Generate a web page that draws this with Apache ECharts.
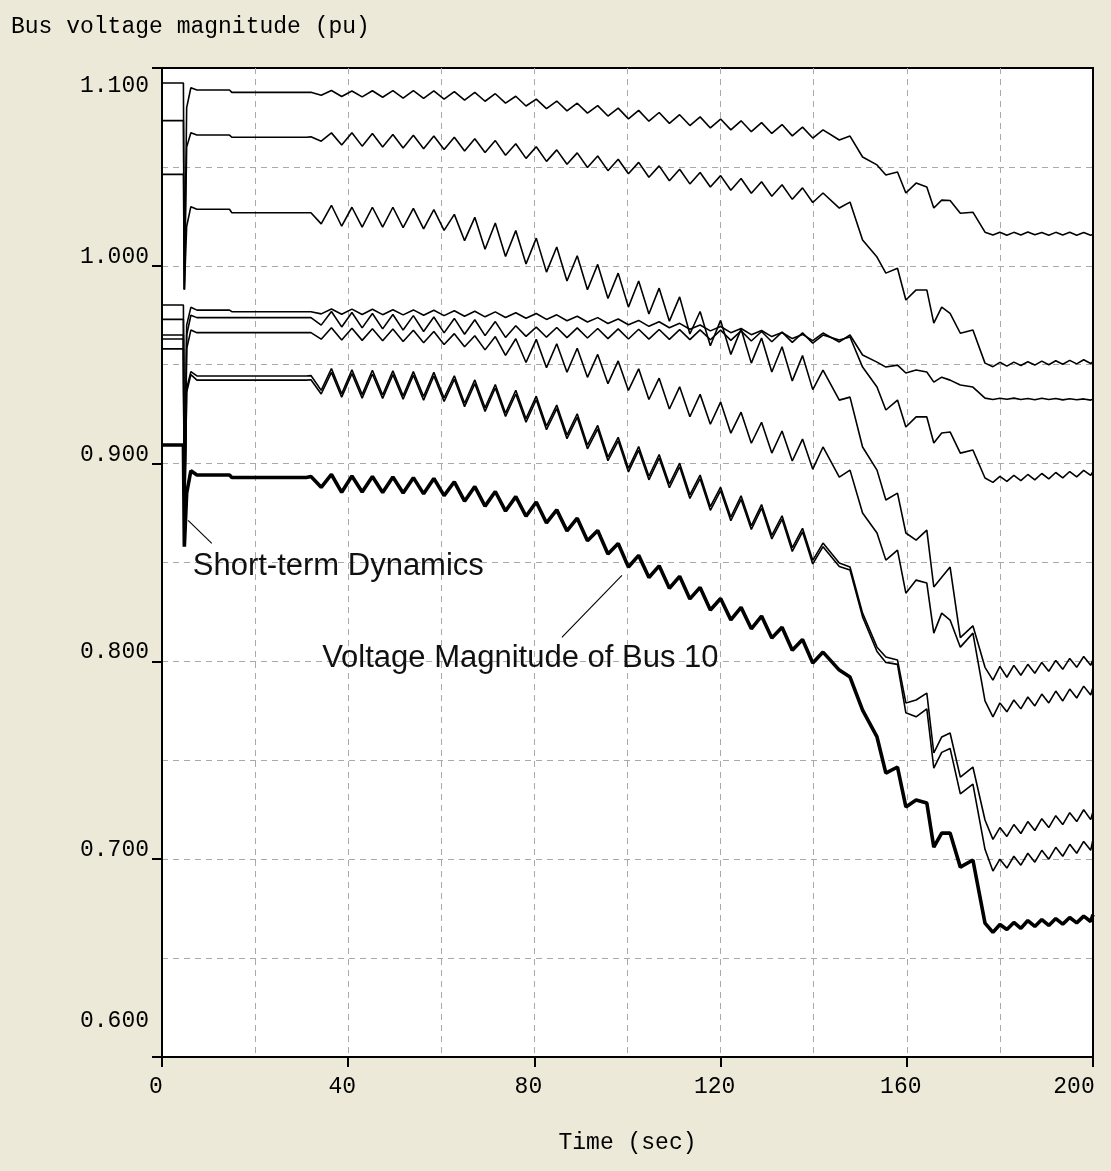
<!DOCTYPE html>
<html>
<head>
<meta charset="utf-8">
<title>Bus voltage magnitude</title>
<script src="https://cdn.jsdelivr.net/npm/echarts@6/dist/echarts.min.js"></script>
<style>
  html, body { margin: 0; padding: 0; background: #ECE9D8; }
  #chart { width: 1111px; height: 1171px; }
</style>
</head>
<body>
<div id="chart"></div>
<script>
// time axis (sec): pre-fault steps, slow oscillation, collapse, post-collapse
var time = [
  0, 4.6, 4.8, 5.3, 6.2, 7.5, 14.5, 15, 31,
  32, 34.2, 36.4, 38.6, 40.8, 43, 45.2, 47.4, 49.6, 51.8, 54, 56.2, 58.4, 60.6, 62.8, 65, 67.2, 69.4, 71.6, 73.8,
  76, 78.2, 80.4, 82.6, 84.8, 87, 89.2, 91.4, 93.6, 95.8, 98, 100.2, 102.4, 104.6, 106.8, 109, 111.2, 113.4,
  115.6, 117.8, 120, 122.2, 124.4, 126.6, 128.8, 131, 133.2, 135.4, 137.6, 139.8,
  142, 145.5, 147.8, 150.5, 153.6, 155.5, 158, 159.8, 162, 164.3, 165.8, 167.5, 169.3, 171.5, 174.2, 176.8,
  178.5, 180, 181.5, 183, 184.5, 186, 187.5, 189, 190.5, 192, 193.5, 195, 196.5, 198, 199.5, 200
];

// bus voltages (pu), top to bottom at t = 35 s
var busA = [
  1.0924, 1.0924, 0.988, 1.08, 1.09, 1.0889, 1.0889, 1.0877, 1.0877,
  1.0877, 1.0862, 1.0886, 1.0856, 1.0884, 1.0854, 1.0885, 1.0852, 1.0886, 1.0848, 1.0886, 1.0846, 1.0884, 1.0843, 1.0881, 1.0838, 1.0877, 1.0832, 1.0870, 1.0822,
  1.0857, 1.0808, 1.0843, 1.0795, 1.0833, 1.0783, 1.0822, 1.0772, 1.0810, 1.0757, 1.0797, 1.0743, 1.0786, 1.0731, 1.0775, 1.0720, 1.0764, 1.0709,
  1.0753, 1.0697, 1.0742, 1.0687, 1.0733, 1.0678, 1.0724, 1.0669, 1.0714, 1.0657, 1.0701, 1.0646,
  1.0687, 1.0636, 1.0656, 1.0550, 1.0510, 1.0459, 1.0474, 1.0368, 1.0418, 1.0398, 1.0292, 1.0332, 1.0330, 1.0266, 1.0271, 1.0170,
  1.0156, 1.0170, 1.0155, 1.0169, 1.0156, 1.0171, 1.0157, 1.0168, 1.0155, 1.0169, 1.0156, 1.0170, 1.0155, 1.0168, 1.0154, 1.0160
];
var busB = [
  1.0734, 1.0734, 0.988, 1.06, 1.0673, 1.0661, 1.0661, 1.065, 1.065,
  1.0652, 1.0630, 1.0672, 1.0611, 1.0673, 1.0605, 1.0669, 1.0601, 1.0664, 1.0596, 1.0660, 1.0592, 1.0656, 1.0588, 1.0650, 1.0580, 1.0642, 1.0573, 1.0633, 1.0559,
  1.0617, 1.0543, 1.0602, 1.0528, 1.0586, 1.0513, 1.0571, 1.0497, 1.0555, 1.0481, 1.0539, 1.0465, 1.0523, 1.0448, 1.0505, 1.0430, 1.0488, 1.0414,
  1.0472, 1.0398, 1.0456, 1.0382, 1.0441, 1.0367, 1.0425, 1.0352, 1.0410, 1.0336, 1.0394, 1.0320,
  1.0368, 1.0292, 1.0322, 1.0130, 1.0044, 0.9963, 0.9988, 0.9827, 0.9878, 0.9878, 0.9710, 0.9791, 0.9760, 0.9659, 0.9675, 0.9508,
  0.9490, 0.9512, 0.9493, 0.9513, 0.9496, 0.9515, 0.9498, 0.9518, 0.9500, 0.9520, 0.9502, 0.9522, 0.9504, 0.9525, 0.9506, 0.9515
];
var busC = [
  1.0462, 1.0462, 0.988, 1.02, 1.0299, 1.0286, 1.0286, 1.0268, 1.0268,
  1.0268, 1.0212, 1.0306, 1.0200, 1.0296, 1.0196, 1.0296, 1.0196, 1.0296, 1.0193, 1.0290, 1.0187, 1.0284, 1.0179, 1.0260, 1.0127, 1.0245, 1.0084, 1.0216, 1.0047,
  1.0178, 1.0009, 1.0140, 0.9968, 1.0095, 0.9923, 1.0051, 0.9879, 1.0007, 0.9835, 0.9963, 0.9791, 0.9923, 0.9756, 0.9887, 0.9720, 0.9843, 0.9655,
  0.9769, 0.9596, 0.9724, 0.9552, 0.9680, 0.9508, 0.9635, 0.9463, 0.9591, 0.9418, 0.9546, 0.9374,
  0.9473, 0.9321, 0.9336, 0.9084, 0.8967, 0.8816, 0.8851, 0.8649, 0.8613, 0.8664, 0.8376, 0.8426, 0.8477, 0.8120, 0.8180, 0.7970,
  0.7905, 0.7975, 0.7920, 0.7980, 0.7930, 0.7985, 0.7940, 0.7995, 0.7950, 0.8005, 0.7960, 0.8015, 0.7970, 0.8025, 0.7980, 0.8010
];
var busD = [
  0.9802, 0.9802, 0.86, 0.97, 0.979, 0.9776, 0.9776, 0.9768, 0.9768,
  0.9768, 0.9757, 0.9782, 0.9755, 0.9781, 0.9754, 0.9780, 0.9753, 0.9778, 0.9752, 0.9777, 0.9750, 0.9775, 0.9748, 0.9773, 0.9745, 0.9770, 0.9742, 0.9767, 0.9739,
  0.9763, 0.9735, 0.9759, 0.9729, 0.9752, 0.9722, 0.9745, 0.9716, 0.9738, 0.9708, 0.9731, 0.9702, 0.9724, 0.9694, 0.9717, 0.9687, 0.9709, 0.9679,
  0.9701, 0.9671, 0.9693, 0.9662, 0.9683, 0.9652, 0.9673, 0.9642, 0.9663, 0.9632, 0.9653, 0.9622,
  0.9660, 0.9615, 0.9650, 0.9549, 0.9513, 0.9488, 0.9498, 0.9458, 0.9473, 0.9463, 0.9412, 0.9437, 0.9422, 0.9397, 0.9387, 0.9331,
  0.9324, 0.9330, 0.9325, 0.9331, 0.9324, 0.9329, 0.9323, 0.9330, 0.9324, 0.9329, 0.9322, 0.9328, 0.9323, 0.9327, 0.9321, 0.9325
];
var busE = [
  0.9729, 0.9729, 0.86, 0.965, 0.975, 0.9738, 0.9738, 0.9738, 0.9738,
  0.9738, 0.9700, 0.9769, 0.9691, 0.9764, 0.9686, 0.9759, 0.9681, 0.9754, 0.9675, 0.9748, 0.9668, 0.9741, 0.9661, 0.9734, 0.9654, 0.9727, 0.9647, 0.9718, 0.9638,
  0.9697, 0.9643, 0.9690, 0.9639, 0.9688, 0.9637, 0.9686, 0.9635, 0.9683, 0.9632, 0.9681, 0.9630, 0.9679, 0.9629, 0.9678, 0.9628, 0.9677, 0.9627,
  0.9676, 0.9626, 0.9675, 0.9623, 0.9671, 0.9620, 0.9668, 0.9616, 0.9665, 0.9613, 0.9661, 0.9609,
  0.9650, 0.9625, 0.9640, 0.9488, 0.9387, 0.9271, 0.9321, 0.9185, 0.9236, 0.9236, 0.9104, 0.9155, 0.9160, 0.9053, 0.9069, 0.8927,
  0.8905, 0.8935, 0.8910, 0.8940, 0.8914, 0.8945, 0.8918, 0.8950, 0.8923, 0.8955, 0.8928, 0.8960, 0.8933, 0.8966, 0.8940, 0.8960
];
var busF = [
  0.965, 0.965, 0.86, 0.958, 0.9675, 0.9662, 0.9662, 0.9662, 0.9662,
  0.9662, 0.9629, 0.9687, 0.9625, 0.9684, 0.9623, 0.9682, 0.9621, 0.9680, 0.9617, 0.9674, 0.9611, 0.9668, 0.9602, 0.9657, 0.9591, 0.9646, 0.9575, 0.9642, 0.9547,
  0.9631, 0.9511, 0.9628, 0.9485, 0.9606, 0.9462, 0.9583, 0.9436, 0.9552, 0.9404, 0.9519, 0.9370, 0.9479, 0.9324, 0.9432, 0.9276, 0.9388, 0.9237,
  0.9350, 0.9199, 0.9311, 0.9154, 0.9260, 0.9103, 0.9209, 0.9053, 0.9165, 0.9013, 0.9124, 0.8972,
  0.9084, 0.8932, 0.8967, 0.8750, 0.8649, 0.8512, 0.8563, 0.8345, 0.8411, 0.8396, 0.8143, 0.8244, 0.8209, 0.8072, 0.8143, 0.7800,
  0.7720, 0.7790, 0.7745, 0.7805, 0.7760, 0.7820, 0.7775, 0.7835, 0.7790, 0.7850, 0.7800, 0.7860, 0.7815, 0.7875, 0.7830, 0.7870
];
var busG = [
  0.963, 0.963, 0.86, 0.938, 0.9465, 0.9443, 0.9443, 0.9443, 0.9443,
  0.9445, 0.9370, 0.9480, 0.9353, 0.9474, 0.9349, 0.9472, 0.9347, 0.9469, 0.9343, 0.9465, 0.9339, 0.9461, 0.9332, 0.9444, 0.9305, 0.9423, 0.9282, 0.9400, 0.9255,
  0.9371, 0.9227, 0.9341, 0.9189, 0.9296, 0.9144, 0.9252, 0.9093, 0.9193, 0.9033, 0.9133, 0.8976, 0.9086, 0.8936, 0.9046, 0.8896, 0.9002, 0.8842,
  0.8942, 0.8782, 0.8881, 0.8729, 0.8837, 0.8685, 0.8793, 0.8637, 0.8736, 0.8574, 0.8673, 0.8511,
  0.8598, 0.8497, 0.8477, 0.8244, 0.8072, 0.8022, 0.8007, 0.7790, 0.7805, 0.7840, 0.7537, 0.7618, 0.7638, 0.7415, 0.7466, 0.7198,
  0.7100, 0.7160, 0.7115, 0.7175, 0.7130, 0.7190, 0.7145, 0.7205, 0.7160, 0.7220, 0.7175, 0.7235, 0.7190, 0.7250, 0.7200, 0.7240
];
var busH = [
  0.958, 0.958, 0.86, 0.936, 0.945, 0.9422, 0.9422, 0.9422, 0.9422,
  0.9424, 0.9352, 0.9461, 0.9336, 0.9455, 0.9331, 0.9453, 0.9330, 0.9450, 0.9326, 0.9447, 0.9321, 0.9443, 0.9314, 0.9426, 0.9288, 0.9404, 0.9264, 0.9382, 0.9238,
  0.9352, 0.9209, 0.9323, 0.9171, 0.9278, 0.9126, 0.9234, 0.9075, 0.9175, 0.9015, 0.9115, 0.8958, 0.9068, 0.8918, 0.9028, 0.8878, 0.8984, 0.8824,
  0.8924, 0.8764, 0.8863, 0.8711, 0.8819, 0.8667, 0.8775, 0.8619, 0.8718, 0.8556, 0.8655, 0.8493,
  0.8580, 0.8480, 0.8462, 0.8225, 0.8050, 0.7995, 0.7985, 0.7740, 0.7720, 0.7760, 0.7460, 0.7540, 0.7560, 0.7330, 0.7380, 0.7050,
  0.6940, 0.7000, 0.6955, 0.7015, 0.6970, 0.7030, 0.6985, 0.7045, 0.7000, 0.7060, 0.7015, 0.7075, 0.7030, 0.7090, 0.7045, 0.7100
];
var bus10 = [
  0.9094, 0.9094, 0.858, 0.885, 0.8964, 0.8942, 0.8942, 0.893, 0.893,
  0.8935, 0.8880, 0.8945, 0.8855, 0.8937, 0.8856, 0.8935, 0.8854, 0.8932, 0.8851, 0.8929, 0.8847, 0.8925, 0.8838, 0.8908, 0.8810, 0.8884, 0.8785, 0.8859, 0.8760,
  0.8833, 0.8734, 0.8806, 0.8700, 0.8766, 0.8660, 0.8724, 0.8610, 0.8662, 0.8543, 0.8596, 0.8477, 0.8536, 0.8424, 0.8483, 0.8370, 0.8430, 0.8316,
  0.8374, 0.8260, 0.8318, 0.8210, 0.8273, 0.8165, 0.8229, 0.8118, 0.8173, 0.8056, 0.8111, 0.7992,
  0.8047, 0.7956, 0.7921, 0.7754, 0.7618, 0.7435, 0.7466, 0.7264, 0.7299, 0.7284, 0.7061, 0.7132, 0.7132, 0.6960, 0.6996, 0.6677,
  0.6630, 0.6670, 0.6645, 0.6680, 0.6650, 0.6690, 0.6660, 0.6695, 0.6665, 0.6700, 0.6672, 0.6705, 0.6678, 0.6712, 0.6685, 0.6720
];

var thinBuses = [busA, busB, busC, busD, busE, busF, busG, busH];

// annotations, in data units (sec, pu)
var shortTermText = 'Short-term Dynamics';
var shortTermLeader = [[5.6, 0.8713], [10.7, 0.8597]];
var shortTermAt = [6.6, 0.848];
var bus10Text = 'Voltage Magnitude of Bus 10';
var bus10Leader = [[98.8, 0.8435], [85.9, 0.8121]];
var bus10At = [34.4, 0.8016];

var MONO = '"Liberation Mono", "DejaVu Sans Mono", monospace';
var SANS = '"Liberation Sans", Arial, sans-serif';

function pairs(values) {
  if (values.length !== time.length) console.warn('length mismatch', values.length, time.length);
  return values.map(function(v, i) { return [time[i], v]; });
}

var series = thinBuses.map(function(arr) {
  return {
    type: 'line', data: pairs(arr), showSymbol: false, silent: true,
    lineStyle: { color: '#000', width: 1.6 }
  };
});
series.push({
  type: 'line', data: pairs(bus10), showSymbol: false, silent: true,
  lineStyle: { color: '#000', width: 3.6 }
});
[shortTermLeader, bus10Leader].forEach(function(seg) {
  series.push({
    type: 'line', data: seg, showSymbol: false, silent: true,
    lineStyle: { color: '#000', width: 1.1 }
  });
});

var chart = echarts.init(document.getElementById('chart'));
chart.setOption({
  animation: false,
  backgroundColor: '#ECE9D8',
  title: {
    text: 'Bus voltage magnitude (pu)', left: 6, top: 10,
    textStyle: { fontFamily: MONO, fontSize: 23, fontWeight: 'normal', color: '#000' }
  },
  grid: {
    left: 162, top: 68, right: 18, bottom: 114,
    show: true, backgroundColor: '#fff', borderColor: '#000', borderWidth: 2
  },
  xAxis: [{
    type: 'value', min: 0, max: 200, interval: 40,
    name: 'Time (sec)', nameLocation: 'middle', nameGap: 74,
    nameTextStyle: { fontFamily: MONO, fontSize: 23, color: '#000' },
    axisLine: { show: true, lineStyle: { color: '#000', width: 2 } },
    axisTick: { show: true, length: 10, lineStyle: { color: '#000', width: 2 } },
    axisLabel: {
      margin: 18, color: '#000', fontFamily: MONO, fontSize: 23,
      formatter: function(v) { return v === 200 ? '{e|200}' : '{n|' + v + '}'; },
      rich: {
        n: { fontFamily: MONO, fontSize: 23, color: '#000', padding: [0, 12, 0, 0] },
        e: { fontFamily: MONO, fontSize: 23, color: '#000', padding: [0, 38, 0, 0] }
      }
    },
    splitLine: { show: false }
  }, {
    type: 'value', min: 0, max: 200, interval: 20,
    axisLine: { show: false }, axisTick: { show: false }, axisLabel: { show: false },
    splitLine: {
      show: true, showMinLine: false, showMaxLine: false,
      lineStyle: { color: '#a9a9a9', width: 1, type: [6, 5] }
    }
  }],
  yAxis: [{
    type: 'value', min: 0.6, max: 1.1, interval: 0.1,
    axisLine: { show: true, lineStyle: { color: '#000', width: 2 } },
    axisTick: { show: true, length: 10, lineStyle: { color: '#000', width: 2 } },
    axisLabel: {
      margin: 13, color: '#000', fontFamily: MONO, fontSize: 23, lineHeight: 18,
      verticalAlign: 'middle',
      formatter: function(v) {
        var s = v.toFixed(3);
        if (v > 1.09) return '\n\n' + s;
        if (v < 0.61) return s + '\n\n\n\n';
        return s + '\n';
      }
    },
    splitLine: { show: false }
  }, {
    type: 'value', min: 0.6, max: 1.1, interval: 0.05,
    axisLine: { show: false }, axisTick: { show: false }, axisLabel: { show: false },
    splitLine: {
      show: true, showMinLine: false, showMaxLine: false,
      lineStyle: { color: '#a9a9a9', width: 1, type: [6, 5] }
    }
  }],
  series: series
});

// annotation texts placed through the chart's own scales
function textAt(text, at) {
  var p = chart.convertToPixel({ seriesIndex: 0 }, at);
  return {
    type: 'text', x: p[0], y: p[1], silent: true, z: 100,
    style: {
      text: text, fontFamily: SANS, fontSize: 31, fill: '#111',
      textAlign: 'left', textVerticalAlign: 'middle'
    }
  };
}
chart.setOption({
  graphic: [textAt(shortTermText, shortTermAt), textAt(bus10Text, bus10At)]
});
</script>
</body>
</html>
